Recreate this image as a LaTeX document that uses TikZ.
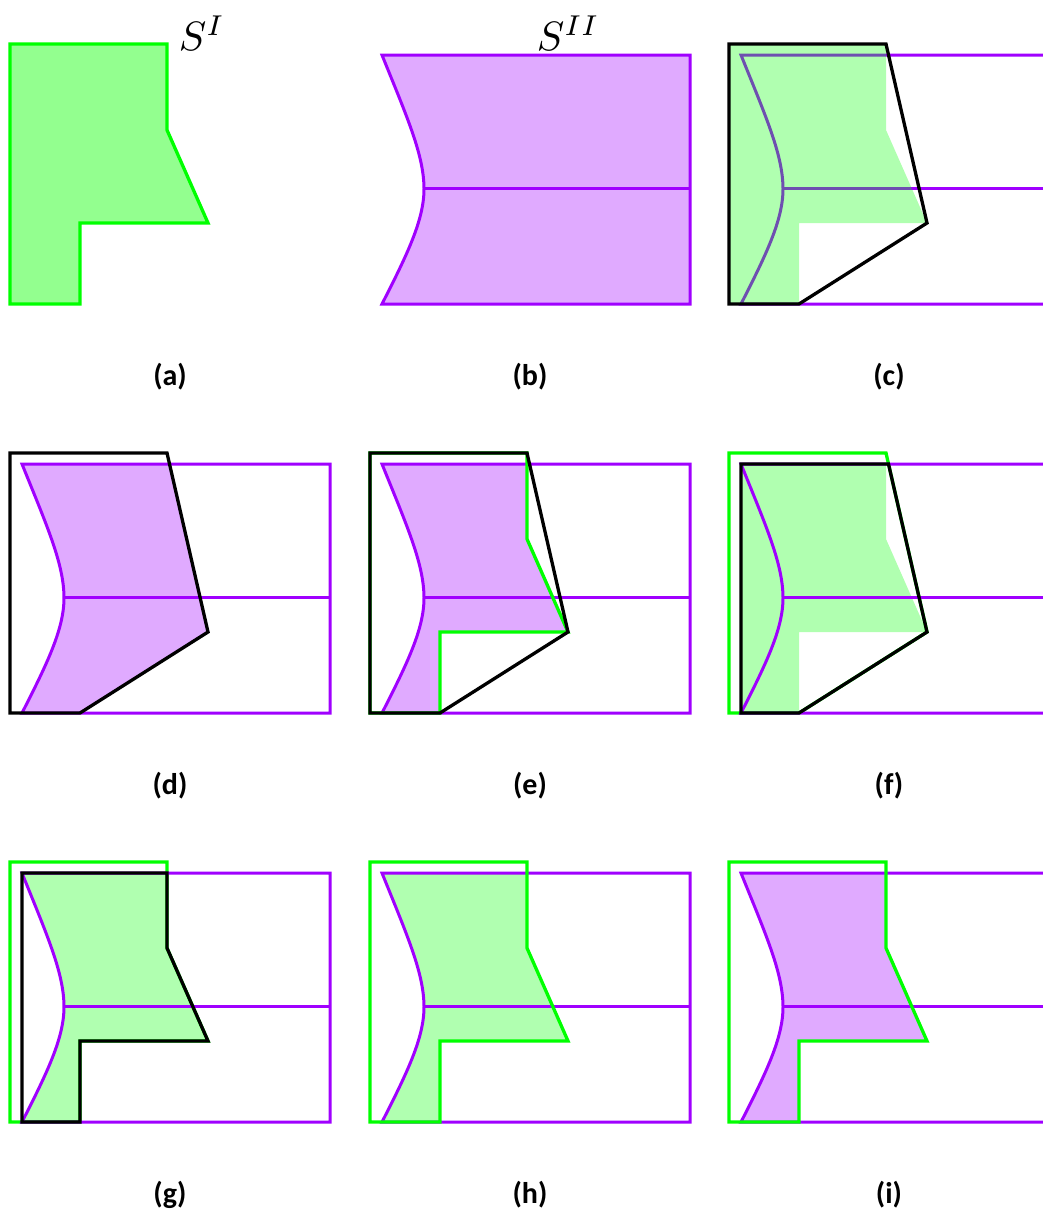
\documentclass[tikz,border=0pt]{standalone}
\usepackage{fontspec}
\newfontfamily\capfont{Carlito}
\usepackage{tikz}

\definecolor{sgreen}{RGB}{0,255,0}
\definecolor{sgreenfill}{RGB}{147,255,143}
\definecolor{spurple}{RGB}{160,0,255}
\definecolor{spurplefill}{RGB}{224,170,255}

% outlines of the two sets, in the frame of S^I
\newcommand{\pathSI}{(0,0) -- (157,0) -- (157,86) -- (198,179) -- (70,179) -- (70,260) -- (0,260) -- cycle}
\newcommand{\pathHull}{(0,0) -- (157,0) -- (198,179) -- (70,260) -- (0,260) -- cycle}
\newcommand{\pathHullBox}{(12,11) -- (159.5,11) -- (198,179) -- (70,260) -- (12,260) -- cycle}
\newcommand{\pathSIBox}{(12,11) -- (157,11) -- (157,86) -- (198,179) -- (70,179) -- (70,260) -- (12,260) -- cycle}
\newcommand{\pathSII}{(12,11) -- (320,11) -- (320,260) -- (12,260) .. controls (37,211) and (54,176) .. (54,145) .. controls (54,111) and (37,73) .. (12,11) -- cycle}
\newcommand{\pathMid}{(54,144.5) -- (320,144.5)}

\begin{document}
\begin{tikzpicture}[x=1pt,y=-1pt,
  greenline/.style={draw=sgreen, line width=3.3pt},
  purpleline/.style={draw=spurple, line width=3pt},
  blackline/.style={draw=black, line width=3.3pt},
  lightgreen/.style={fill=sgreen, fill opacity=0.31},
  caption/.style={font=\capfont\bfseries\fontsize{30}{34}\selectfont},
  setlabel/.style={scale=4.1, inner sep=0pt, anchor=base west}]

\useasboundingbox (0,0) rectangle (1043,1210);

% --- (a) S^I ---
\begin{scope}[shift={(10,44)}]
  \fill[sgreenfill] \pathSI;
  \draw[greenline] \pathSI;
\end{scope}
\node[setlabel] (lbl-SI) at (178,50) {$S^{I}$};

% --- (b) S^II ---
\begin{scope}[shift={(370,44)}]
  \fill[spurplefill] \pathSII;
  \draw[purpleline] \pathSII;
  \draw[purpleline] \pathMid;
\end{scope}
\node[setlabel] (lbl-SII) at (536,50) {$S^{II}$};

% --- (c) hull of S^I over S^II ---
\begin{scope}[shift={(729,44)}]
  \draw[purpleline] \pathSII;
  \draw[purpleline] \pathMid;
  \fill[lightgreen] \pathSI;
  \draw[blackline] \pathHull;
\end{scope}

% --- (d) S^II cut by the hull ---
\begin{scope}[shift={(10,453)}]
  \begin{scope}
    \clip \pathHull;
    \fill[spurplefill] \pathSII;
  \end{scope}
  \draw[purpleline] \pathSII;
  \draw[purpleline] \pathMid;
  \draw[blackline] \pathHull;
\end{scope}

% --- (e) S^II cut by S^I ---
\begin{scope}[shift={(370,453)}]
  \begin{scope}
    \clip \pathSI;
    \fill[spurplefill] \pathSII;
  \end{scope}
  \draw[purpleline] \pathSII;
  \draw[purpleline] \pathMid;
  \draw[greenline] \pathSI;
  \draw[blackline] \pathHull;
\end{scope}

% --- (f) hull cut by the box of S^II ---
\begin{scope}[shift={(729,453)}]
  \begin{scope}
    \clip (12,11) rectangle (320,260);
    \fill[lightgreen] \pathSI;
  \end{scope}
  \draw[greenline] \pathHull;
  \draw[purpleline] \pathSII;
  \draw[purpleline] \pathMid;
  \draw[blackline] \pathHullBox;
\end{scope}

% --- (g) S^I cut by the box of S^II ---
\begin{scope}[shift={(10,862)}]
  \begin{scope}
    \clip \pathSII;
    \fill[lightgreen] \pathSI;
  \end{scope}
  \draw[greenline] \pathSI;
  \draw[purpleline] \pathSII;
  \draw[purpleline] \pathMid;
  \draw[blackline] \pathSIBox;
\end{scope}

% --- (h) S^I cut by S^II ---
\begin{scope}[shift={(370,862)}]
  \begin{scope}
    \clip \pathSII;
    \fill[lightgreen] \pathSI;
  \end{scope}
  \draw[purpleline] \pathSII;
  \draw[purpleline] \pathMid;
  \draw[greenline] \pathSI;
\end{scope}

% --- (i) S^II cut by S^I ---
\begin{scope}[shift={(729,862)}]
  \begin{scope}
    \clip \pathSI;
    \fill[spurplefill] \pathSII;
  \end{scope}
  \draw[purpleline] \pathSII;
  \draw[purpleline] \pathMid;
  \draw[greenline] \pathSI;
\end{scope}

% sub-captions
\foreach \lab/\cx/\cy in {a/170/377, b/530/377, c/889/377,
                          d/170/786, e/530/786, f/889/786,
                          g/170/1195, h/530/1195, i/889/1195}
  \node[caption] (cap-\lab) at (\cx,\cy) {(\lab)};

\end{tikzpicture}
\end{document}
